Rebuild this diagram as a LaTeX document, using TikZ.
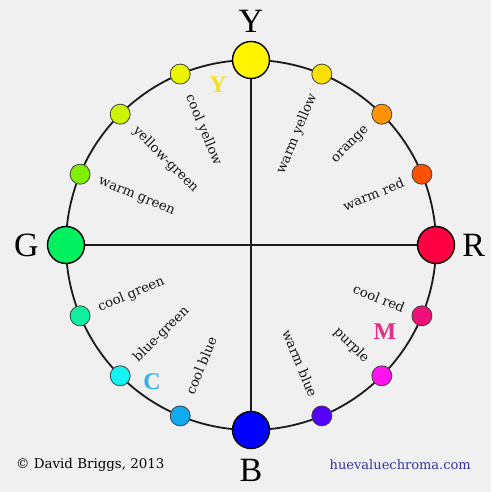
\documentclass[tikz,border=0pt]{standalone}
\usepackage{fontspec}
\setmainfont{Liberation Serif}
\newfontfamily\labelfont{DejaVu Serif}
\usepackage{xcolor}
\usetikzlibrary{positioning}

\definecolor{bggray}{HTML}{F0F0F0}
\definecolor{ringgray}{HTML}{1A1A1A}
\definecolor{hueY}{HTML}{FFF500}
\definecolor{hueWY}{HTML}{FFE000}
\definecolor{hueOr}{HTML}{FF9400}
\definecolor{hueWR}{HTML}{FF5000}
\definecolor{hueR}{HTML}{FF0040}
\definecolor{hueCR}{HTML}{F0107A}
\definecolor{hueM}{HTML}{FF14F0}
\definecolor{hueWB}{HTML}{5500FF}
\definecolor{hueB}{HTML}{0000FF}
\definecolor{hueCB}{HTML}{10AAF0}
\definecolor{hueC}{HTML}{14F4F4}
\definecolor{hueCG}{HTML}{10F0A0}
\definecolor{hueG}{HTML}{00F060}
\definecolor{hueWG}{HTML}{80F000}
\definecolor{hueYG}{HTML}{CCF400}
\definecolor{hueCY}{HTML}{EAF500}
\definecolor{tagY}{HTML}{F2E020}
\definecolor{tagM}{HTML}{E0308C}
\definecolor{tagC}{HTML}{30B0F0}
\definecolor{webblue}{HTML}{3333A0}

\begin{document}
\begin{tikzpicture}[x=1pt, y=1pt,
  bigdot/.style={circle, draw=black, line width=1.4pt, minimum size=37pt, inner sep=0pt},
  smalldot/.style={circle, draw=black!75, line width=0.8pt, minimum size=20pt, inner sep=0pt},
  hue/.style={inner sep=0pt, text=black!92, font=\labelfont\fontsize{13.2}{16}\selectfont},
  axisletter/.style={inner sep=0pt, font=\fontsize{34}{40}\selectfont},
  primary/.style={inner sep=0pt, font=\fontsize{24}{28}\selectfont\bfseries}]

\fill[bggray] (0,0) rectangle (491,492);
\useasboundingbox (0,0) rectangle (491,492);

\begin{scope}[shift={(251,247)}]
% Ring
\draw[line width=1.8pt, ringgray] (0,0) circle (185pt);

% Define nodes
\node[bigdot, fill=hueR] (R) at (0:185) {};
\node[smalldot, fill=hueWR] (WR) at (22.5:185) {};
\node[smalldot, fill=hueOr] (Or) at (45:185) {};
\node[smalldot, fill=hueWY] (WY) at (67.5:185) {};
\node[bigdot, fill=hueY] (Y) at (90:185) {};
\node[smalldot, fill=hueCY] (CY) at (112.5:185) {};
\node[smalldot, fill=hueYG] (YG) at (135:185) {};
\node[smalldot, fill=hueWG] (WG) at (157.5:185) {};
\node[bigdot, fill=hueG] (G) at (180:185) {};
\node[smalldot, fill=hueCG] (CG) at (202.5:185) {};
\node[smalldot, fill=hueC] (C) at (225:185) {};
\node[smalldot, fill=hueCB] (CB) at (247.5:185) {};
\node[bigdot, fill=hueB] (B) at (270:185) {};
\node[smalldot, fill=hueWB] (WB) at (292.5:185) {};
\node[smalldot, fill=hueM] (M) at (315:185) {};
\node[smalldot, fill=hueCR] (CR) at (337.5:185) {};

% Axes
\draw[line width=1.6pt, ringgray] (Y) -- (B);
\draw[line width=1.6pt, ringgray] (G) -- (R);

% Hue names, right half read outwards
\node[hue, rotate=22.5, anchor=east] (lWR) at (22.5:165) {warm red};
\node[hue, rotate=45, anchor=east] (lOr) at (45:165) {orange};
\node[hue, rotate=67.5, anchor=east] (lWY) at (67.5:163) {warm yellow};
\node[hue, rotate=-67.5, anchor=east] (lWB) at (292.5:164) {warm blue};
\node[hue, rotate=-45, anchor=east] (lPu) at (315:164) {purple};
\node[hue, rotate=-22.5, anchor=east] (lCR) at (337.5:166) {cool red};

% Hue names, left half read inwards
\node[hue, rotate=-67.5, anchor=west] (lCY) at (112.5:162) {cool yellow};
\node[hue, rotate=-45, anchor=west] (lYG) at (135:164) {yellow-green};
\node[hue, rotate=-22.5, anchor=west] (lWG) at (157.5:165) {warm green};
\node[hue, rotate=22.5, anchor=west] (lCG) at (202.5:165) {cool green};
\node[hue, rotate=45, anchor=west] (lBG) at (225:163) {blue-green};
\node[hue, rotate=67.5, anchor=west] (lCB) at (247.5:161) {cool blue};
\end{scope}

% Axis letters
\node[axisletter, above=8pt of Y] (tY) {Y};
\node[axisletter, left=8pt of G] (tG) {G};
\node[axisletter, right=7pt of R] (tR) {R};
\node[axisletter, below=10pt of B] (tB) {B};

% Subtractive primaries
\node[primary, text=tagY] (pY) at (218,407) {Y};
\node[primary, text=tagM] (pM) at (385,160) {M};
\node[primary, text=tagC] (pC) at (152,110) {C};

% Footer
\node[anchor=west, inner sep=0pt, font=\labelfont\fontsize{13.4}{16}\selectfont] (copy) at (16,27) {© David Briggs, 2013};
\node[anchor=east, inner sep=0pt, text=webblue, font=\labelfont\fontsize{13}{16}\selectfont] (web) at (471,27) {huevaluechroma.com};

\end{tikzpicture}
\end{document}
